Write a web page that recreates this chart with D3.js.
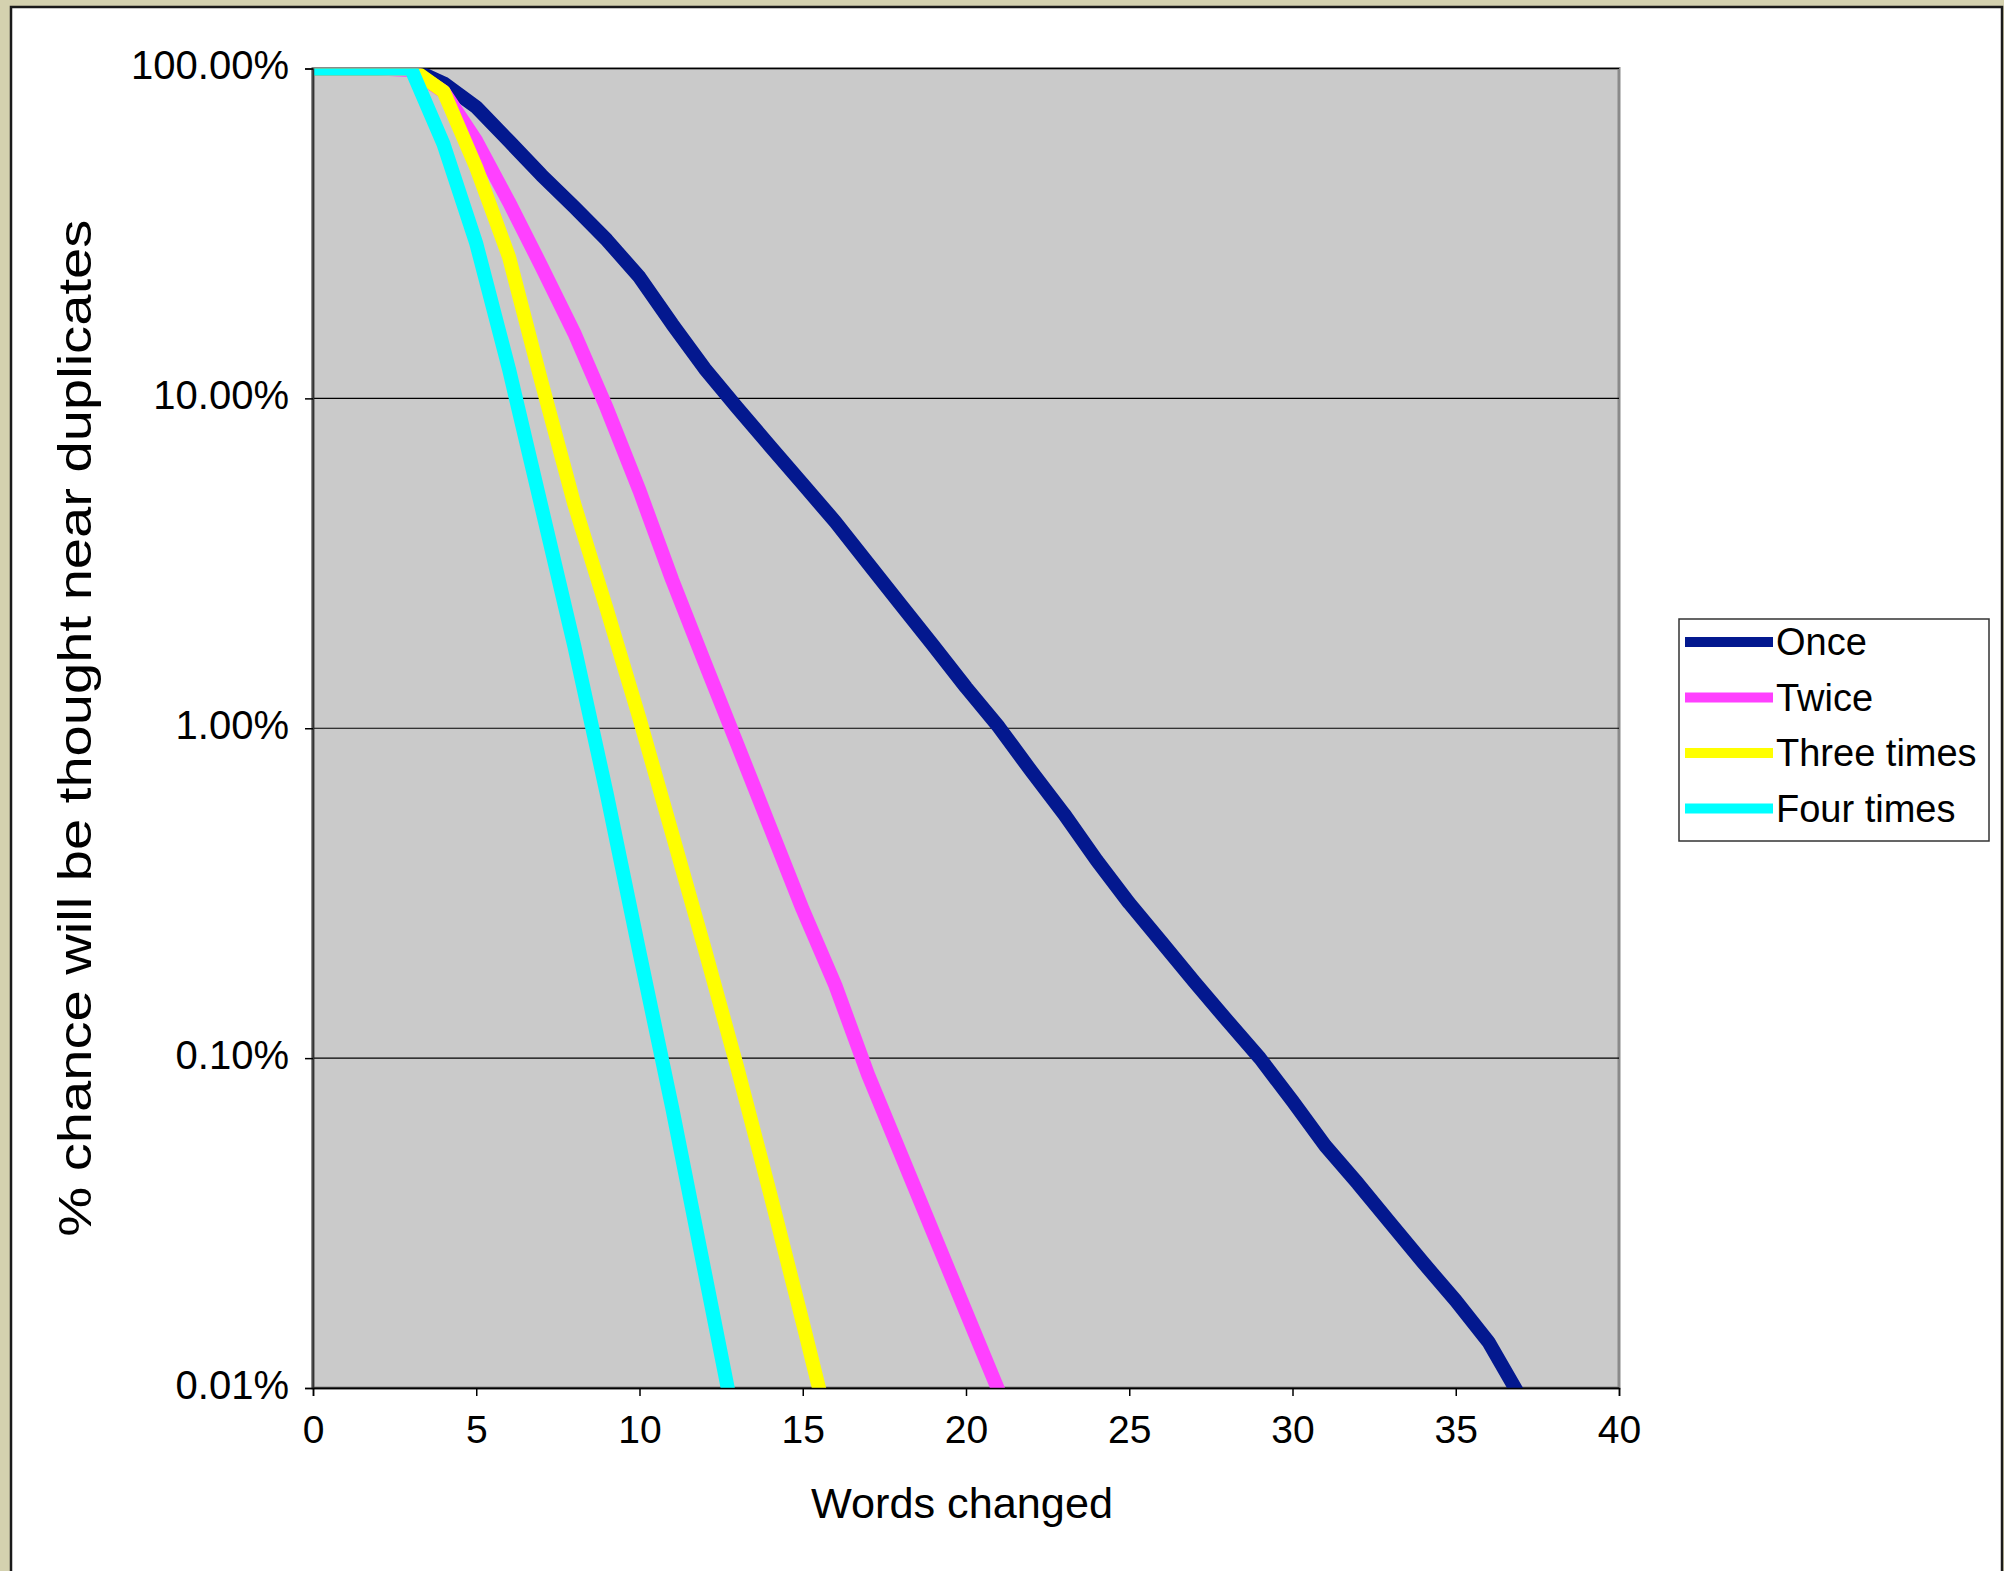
<!DOCTYPE html>
<html>
<head>
<meta charset="utf-8">
<script src="https://cdn.jsdelivr.net/npm/d3@7"></script>
<style>
  html, body { margin: 0; padding: 0; background: #D4D1AF; }
  svg { display: block; }
</style>
</head>
<body>
<svg id="chart" width="2004" height="1571"></svg>
<script>
// ---- data ----
const wordsOnce  = [0,1,2,3,4,5,6,7,8,9,10,11,12,13,14,15,16,17,18,19,20,21,22,23,24,25,26,27,28,29,30,31,32,33,34,35,36,37];
const once       = [100,100,100,100,90.2,76.4,60.3,47.5,38.0,30.2,23.3,16.8,12.3,9.35,7.16,5.50,4.22,3.16,2.37,1.78,1.33,1.01,0.741,0.550,0.398,0.295,0.224,0.170,0.130,0.100,0.0741,0.0543,0.0417,0.0316,0.0240,0.0184,0.0138,0.0093];
const wordsTwice = [0,1,2,3,4,5,6,7,8,9,10,11,12,13,14,15,16,17,18,19,20,21];
const twice      = [100,100,100,99,85.1,60.3,39.4,25.1,15.8,9.33,5.25,2.82,1.58,0.891,0.501,0.282,0.166,0.0891,0.0513,0.0295,0.0170,0.0098];
const wordsThree = [0,1,2,3,4,5,6,7,8,9,10,11,12,13,14,15,16];
const threeTimes = [100,100,100,100,85.1,50.1,26.9,11.2,4.79,2.29,1.07,0.479,0.214,0.0933,0.0389,0.0158,0.0063];
const wordsFour  = [0,1,2,3,4,5,6,7,8,9,10,11,12,13];
const fourTimes  = [100,100,100,100,58.9,29.5,12.3,4.68,1.78,0.631,0.209,0.0708,0.0224,0.0071];

const seriesNames  = ["Once", "Twice", "Three times", "Four times"];
const seriesColors = ["#03188F", "#FF40FF", "#FFFF00", "#00FFFF"];
const xTickValues  = [0,5,10,15,20,25,30,35,40];
const yTickValues  = [100,10,1,0.1,0.01];
const xTitle = "Words changed";
const yTitle = "% chance will be thought near duplicates";

const series = [
  {name: seriesNames[0], color: seriesColors[0], xs: wordsOnce,  ys: once},
  {name: seriesNames[1], color: seriesColors[1], xs: wordsTwice, ys: twice},
  {name: seriesNames[2], color: seriesColors[2], xs: wordsThree, ys: threeTimes},
  {name: seriesNames[3], color: seriesColors[3], xs: wordsFour,  ys: fourTimes}
];

// ---- layout ----
const FONT = "'Liberation Sans', Arial, Helvetica, sans-serif";
const plot = {left: 313, right: 1619, top: 68.5, bottom: 1388};

const svg = d3.select("#chart");

// background frame
svg.append("rect").attr("x", 0).attr("y", 0).attr("width", 2004).attr("height", 1571).attr("fill", "#D4D1AF");
svg.append("rect").attr("x", 11).attr("y", 7).attr("width", 1991).attr("height", 1580)
   .attr("fill", "#ffffff").attr("stroke", "#1a1a1a").attr("stroke-width", 2.5);

const x = d3.scaleLinear().domain([0, 40]).range([plot.left, plot.right]);
const y = d3.scaleLog().domain([0.01, 100]).range([plot.bottom, plot.top]);

// plot area
svg.append("rect")
   .attr("x", plot.left).attr("y", plot.top)
   .attr("width", plot.right - plot.left).attr("height", plot.bottom - plot.top)
   .attr("fill", "#CACACA").attr("stroke", "#8A8A8A").attr("stroke-width", 3);
svg.append("line").attr("x1", plot.left - 0.5).attr("x2", plot.left - 0.5)
   .attr("y1", plot.top).attr("y2", plot.bottom)
   .attr("stroke", "#555").attr("stroke-width", 2);

// gridlines
svg.append("g").selectAll("line").data(yTickValues).join("line")
   .attr("x1", plot.left).attr("x2", plot.right)
   .attr("y1", d => y(d)).attr("y2", d => y(d))
   .attr("stroke", "#000").attr("stroke-width", 1.2);

// clip
svg.append("clipPath").attr("id", "plotClip").append("rect")
   .attr("x", plot.left).attr("y", plot.top)
   .attr("width", plot.right - plot.left).attr("height", plot.bottom - plot.top);

const line = d3.line().x(d => x(d[0])).y(d => y(d[1]));

svg.append("g").attr("clip-path", "url(#plotClip)")
   .selectAll("path").data(series).join("path")
   .attr("d", s => line(s.xs.map((v, i) => [v, s.ys[i]])))
   .attr("fill", "none")
   .attr("stroke", s => s.color)
   .attr("stroke-width", 14)
   .attr("stroke-linejoin", "round")
   .attr("stroke-linecap", "butt");

// axes
const yAxis = d3.axisLeft(y).tickValues(yTickValues).tickSize(8).tickPadding(16)
   .tickFormat(d => d3.format(".2f")(d) + "%");
const gy = svg.append("g").attr("transform", `translate(${plot.left},0)`).call(yAxis);
gy.select(".domain").attr("stroke", "#333").attr("stroke-width", 1.5);
gy.selectAll(".tick line").attr("stroke", "#000").attr("stroke-width", 1.5);
gy.selectAll(".tick text").attr("font-family", FONT).attr("font-size", 40)
   .attr("fill", "#000").attr("dy", 10).attr("x", -24);

const xAxis = d3.axisBottom(x).tickValues(xTickValues).tickSize(8).tickFormat(d3.format("d"));
const gx = svg.append("g").attr("transform", `translate(0,${plot.bottom})`).call(xAxis);
gx.select(".domain").attr("stroke", "#000").attr("stroke-width", 1.5);
gx.selectAll(".tick line").attr("stroke", "#000").attr("stroke-width", 1.5);
gx.selectAll(".tick text").attr("font-family", FONT).attr("font-size", 39)
   .attr("fill", "#000").attr("y", 55).attr("dy", 0);

// axis titles
svg.append("text").attr("x", (plot.left + plot.right) / 2 - 4).attr("y", 1518)
   .attr("text-anchor", "middle").attr("font-family", FONT).attr("font-size", 43)
   .attr("textLength", 302).attr("lengthAdjust", "spacingAndGlyphs")
   .attr("fill", "#000").text(xTitle);

svg.append("text")
   .attr("transform", `translate(91,${(plot.top + plot.bottom) / 2}) rotate(-90)`)
   .attr("text-anchor", "middle").attr("font-family", FONT).attr("font-size", 46)
   .attr("textLength", 1017).attr("lengthAdjust", "spacingAndGlyphs")
   .attr("fill", "#000").text(yTitle);

// legend
const lg = svg.append("g");
lg.append("rect").attr("x", 1679).attr("y", 619).attr("width", 310).attr("height", 222)
  .attr("fill", "#fff").attr("stroke", "#333").attr("stroke-width", 1.5);
const rows = lg.selectAll("g.row").data(series).join("g").attr("class", "row")
  .attr("transform", (d, i) => `translate(0,${642 + i * 55.5})`);
rows.append("line").attr("x1", 1685).attr("x2", 1773).attr("y1", 0).attr("y2", 0)
  .attr("stroke", d => d.color).attr("stroke-width", 10);
rows.append("text").attr("x", 1776).attr("y", 13)
  .attr("font-family", FONT).attr("font-size", 38).attr("fill", "#000")
  .text(d => d.name);
</script>
</body>
</html>
